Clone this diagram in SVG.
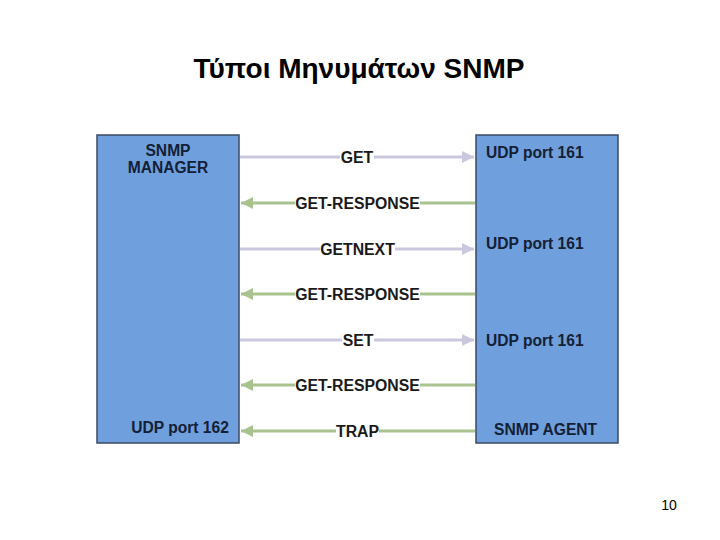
<svg xmlns="http://www.w3.org/2000/svg" width="720" height="540" viewBox="0 0 720 540">
<style>
.box{fill:#6f9fdc;stroke:#3b4a66;stroke-width:1.5}
.lbl{font-family:"Liberation Sans",Arial,sans-serif;font-weight:bold;font-size:15.8px;fill:#1a1a1a}
.bt{font-family:"Liberation Sans",Arial,sans-serif;font-weight:bold;font-size:15.6px;fill:#142035}
.req{stroke:#cbc7de;stroke-width:3;fill:none}
.rsp{stroke:#a9c38e;stroke-width:3;fill:none}
.bg{fill:#ffffff}
</style>
<defs>
<marker id="ar" markerWidth="4" markerHeight="4" refX="4" refY="2" orient="auto" markerUnits="strokeWidth"><path d="M0,0 L4,2 L0,4 z" fill="#cbc7de"/></marker>
<marker id="ag" markerWidth="4" markerHeight="4" refX="4" refY="2" orient="auto" markerUnits="strokeWidth"><path d="M0,0 L4,2 L0,4 z" fill="#a9c38e"/></marker>
</defs>
<rect width="720" height="540" fill="#ffffff"/>
<text x="359" y="78" text-anchor="middle" font-family="'Liberation Sans',Arial,sans-serif" font-size="28" font-weight="bold" fill="#000">Τύποι Μηνυμάτων SNMP</text>
<g id="manager">
<rect class="box" x="97" y="135" width="142" height="308"/>
<text class="bt" x="168" y="156" text-anchor="middle">SNMP</text>
<text class="bt" x="168" y="173" text-anchor="middle">MANAGER</text>
<text class="bt" x="180" y="433" text-anchor="middle">UDP port 162</text>
</g>
<g id="agent">
<rect class="box" x="476" y="135" width="142" height="308"/>
<text class="bt" x="486" y="158">UDP port 161</text>
<text class="bt" x="486" y="249">UDP port 161</text>
<text class="bt" x="486" y="346">UDP port 161</text>
<text class="bt" x="494" y="435">SNMP AGENT</text>
</g>
<g id="connectors">
<line class="req" x1="240" y1="157" x2="474" y2="157" marker-end="url(#ar)"/>
<rect class="bg" x="340" y="148" width="34" height="18"/>
<text class="lbl" x="357" y="163" text-anchor="middle">GET</text>
<line class="rsp" x1="475" y1="203" x2="241" y2="203" marker-end="url(#ag)"/>
<rect class="bg" x="295" y="194" width="125" height="18"/>
<text class="lbl" x="357.5" y="209" text-anchor="middle">GET-RESPONSE</text>
<line class="req" x1="240" y1="249" x2="474" y2="249" marker-end="url(#ar)"/>
<rect class="bg" x="320" y="240" width="75" height="18"/>
<text class="lbl" x="357.5" y="255" text-anchor="middle">GETNEXT</text>
<line class="rsp" x1="475" y1="294" x2="241" y2="294" marker-end="url(#ag)"/>
<rect class="bg" x="295" y="285" width="125" height="18"/>
<text class="lbl" x="357.5" y="300" text-anchor="middle">GET-RESPONSE</text>
<line class="req" x1="240" y1="340" x2="474" y2="340" marker-end="url(#ar)"/>
<rect class="bg" x="342" y="331" width="32" height="18"/>
<text class="lbl" x="358" y="346" text-anchor="middle">SET</text>
<line class="rsp" x1="475" y1="385" x2="241" y2="385" marker-end="url(#ag)"/>
<rect class="bg" x="295" y="376" width="125" height="18"/>
<text class="lbl" x="357.5" y="391" text-anchor="middle">GET-RESPONSE</text>
<line class="rsp" x1="475" y1="431" x2="241" y2="431" marker-end="url(#ag)"/>
<rect class="bg" x="336" y="422" width="43" height="18"/>
<text class="lbl" x="357.5" y="437" text-anchor="middle">TRAP</text>
</g>
<text x="669" y="510" text-anchor="middle" font-family="'Liberation Sans',Arial,sans-serif" font-size="14" fill="#000">10</text>
</svg>
